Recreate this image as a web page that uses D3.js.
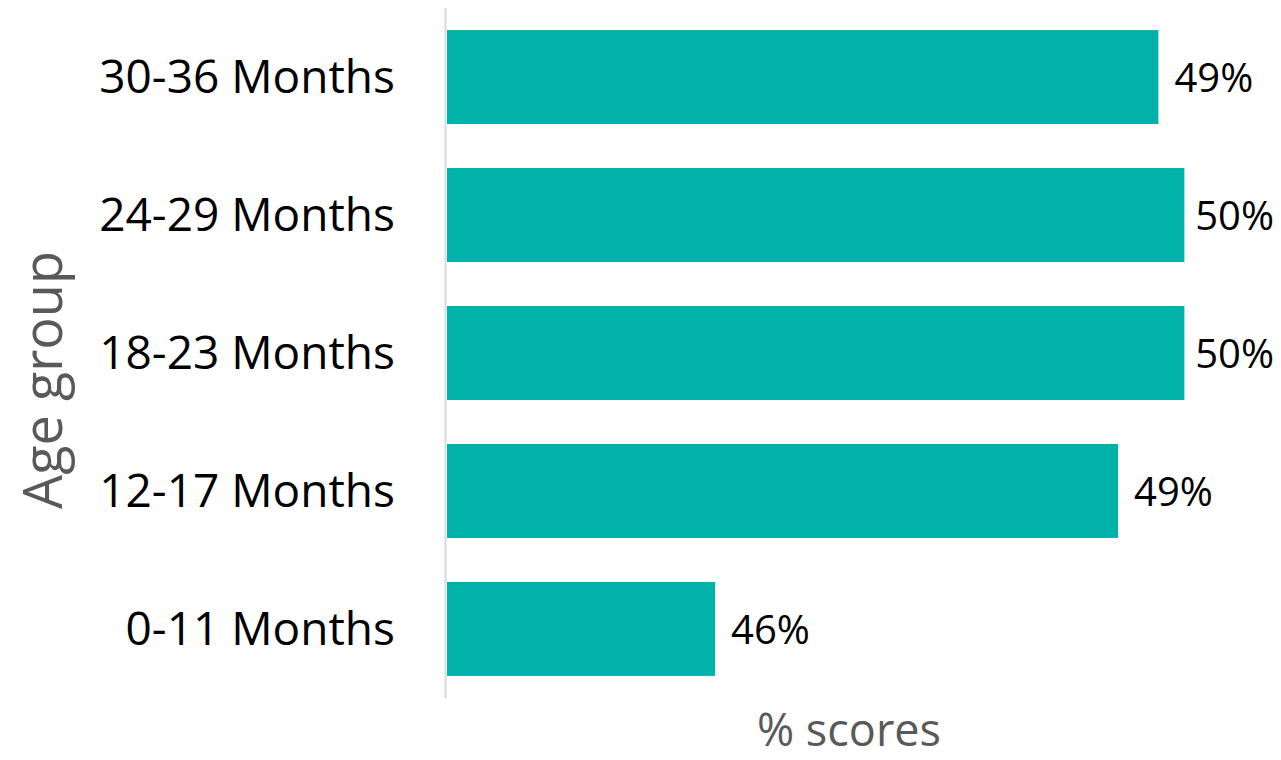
<!DOCTYPE html>
<html>
<head>
<meta charset="utf-8">
<script src="https://cdn.jsdelivr.net/npm/d3@7"></script>
<style>
  body { margin: 0; background: #fff; }
  svg text { font-family: "Open Sans", "Noto Sans", sans-serif; }
</style>
</head>
<body>
<script>
// age groups, top to bottom
var groups = ['30-36 Months', '24-29 Months', '18-23 Months', '12-17 Months', '0-11 Months'];
var scores = [49.88, 50.08, 50.08, 49.57, 46.47];
var scoreLabels = ['49%', '50%', '50%', '49%', '46%'];
var xDomain = [44.4, 50.5];

var svg = d3.select('body').append('svg')
    .attr('width', 1281)
    .attr('height', 760);

var margin = { top: 8, left: 446 },
    height = 690,
    g = svg.append('g').attr('transform', 'translate(' + margin.left + ',' + margin.top + ')');

var x = d3.scaleLinear()
    .domain(xDomain)
    .range([0, 793]);

var y = d3.scaleBand()
    .domain(groups)
    .range([0, height])
    .paddingInner(0.319)
    .paddingOuter(0.16);

var data = groups.map(function (d, i) {
    return { group: d, score: scores[i], label: scoreLabels[i] };
});

g.selectAll('.bar')
    .data(data)
    .enter().append('rect')
    .attr('class', 'bar')
    .attr('x', 1)
    .attr('y', function (d) { return y(d.group); })
    .attr('width', function (d) { return x(d.score) - 1; })
    .attr('height', y.bandwidth())
    .attr('fill', '#00b2a9');

// axis line
g.append('line')
    .attr('x1', -0.5).attr('x2', -0.5)
    .attr('y1', 0).attr('y2', height)
    .attr('stroke', '#d9d9d9')
    .attr('stroke-width', 2);

// category labels
g.selectAll('.cat')
    .data(data)
    .enter().append('text')
    .attr('class', 'cat')
    .attr('x', -51)
    .attr('y', function (d) { return y(d.group) + y.bandwidth() / 2; })
    .attr('dy', '0.35em')
    .style('text-anchor', 'end')
    .style('font-size', '46px')
    .attr('fill', '#000')
    .text(function (d) { return d.group; });

// value labels, kept inside the picture like excel does
g.selectAll('.val')
    .data(data)
    .enter().append('text')
    .attr('class', 'val')
    .attr('y', function (d) { return y(d.group) + y.bandwidth() / 2; })
    .attr('dy', '0.37em')
    .style('font-size', '40px')
    .attr('fill', '#000')
    .text(function (d) { return d.label; })
    .attr('x', function (d) {
        var w = this.getComputedTextLength();
        return Math.min(x(d.score) + 16, 1274 - margin.left - w);
    });

svg.append('text')
    .attr('x', 849)
    .attr('y', 746)
    .style('text-anchor', 'middle')
    .style('font-size', '45px')
    .attr('fill', '#595959')
    .text('% scores');

svg.append('text')
    .attr('transform', 'translate(62,380) rotate(-90)')
    .style('text-anchor', 'middle')
    .style('font-size', '54px')
    .attr('fill', '#595959')
    .text('Age group');
</script>
</body>
</html>
